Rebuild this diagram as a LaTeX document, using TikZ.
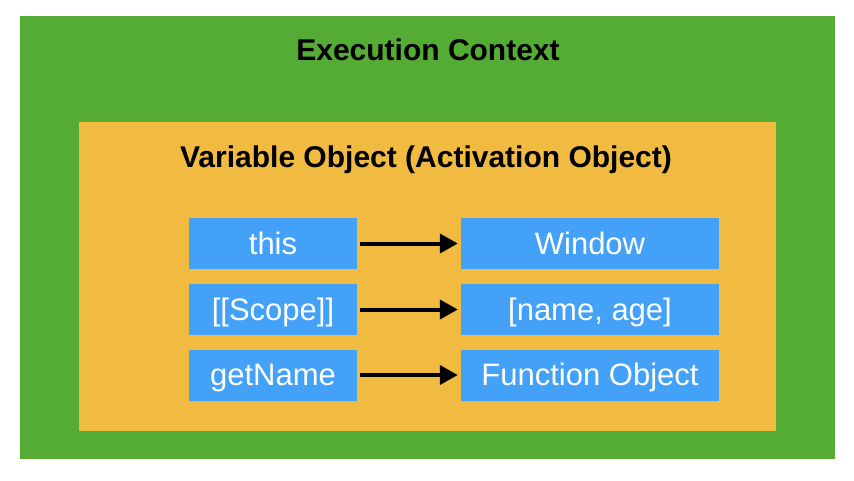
\documentclass[tikz,border=0pt]{standalone}
\usepackage{fontspec}
\setmainfont{Liberation Sans}
\usetikzlibrary{arrows.meta}
\definecolor{ecgreen}{RGB}{85,172,52}
\definecolor{voorange}{RGB}{241,186,65}
\definecolor{boxblue}{RGB}{68,161,248}
\begin{document}
\begin{tikzpicture}[x=1pt,y=-1pt,
  keybox/.style={fill=boxblue,draw=none,minimum height=51pt,inner sep=0pt,text height=21pt,text depth=0pt,text=white,font=\fontsize{31}{35}\selectfont},
  title/.style={anchor=base,inner sep=0pt,font=\bfseries\fontsize{30}{34}\selectfont},
  link/.style={line width=4pt,-{Triangle[length=18pt,width=19pt]}}]
\useasboundingbox (0,0) rectangle (854,480);
\fill[white] (0,0) rectangle (854,480);
\fill[ecgreen] (20,16) rectangle (835,459);
\fill[voorange] (79,122) rectangle (776,431);
\node[title] (ect) at (428,60) {Execution Context};
\node[title] (vot) at (426,167) {Variable Object (Activation Object)};
\node[keybox,minimum width=168pt] (k1) at (273,243.5) {this};
\node[keybox,minimum width=168pt] (k2) at (273,309.5) {[[Scope]]};
\node[keybox,minimum width=168pt] (k3) at (273,375) {getName};
\node[keybox,minimum width=258pt] (v1) at (590,243.5) {Window};
\node[keybox,minimum width=258pt] (v2) at (590,309.5) {[name, age]};
\node[keybox,minimum width=258pt] (v3) at (590,375) {Function Object};
\draw[link,shorten <=3pt,shorten >=3pt] (k1) -- (v1);
\draw[link,shorten <=3pt,shorten >=3pt] (k2) -- (v2);
\draw[link,shorten <=3pt,shorten >=3pt] (k3) -- (v3);
\end{tikzpicture}
\end{document}
